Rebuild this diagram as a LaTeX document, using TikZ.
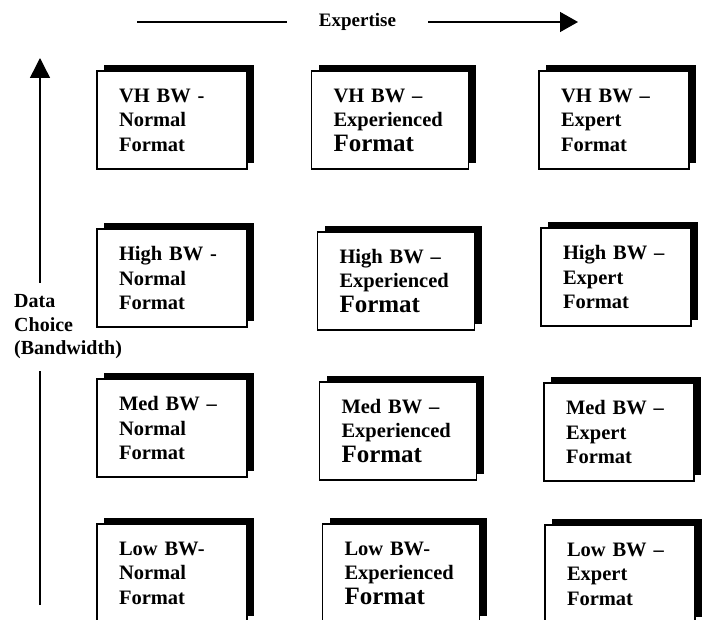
\documentclass[tikz,border=0pt]{standalone}
\usepackage{fontspec}
\setmainfont{Liberation Serif}
\usetikzlibrary{arrows.meta,positioning,shadows}
\newcommand{\fmtbig}{\fontsize{25}{29}\selectfont}

\begin{document}
\begin{tikzpicture}[x=1pt,y=-1pt,
  cell/.style={draw=black,line width=1.4pt,fill=white,minimum height=98pt,
    inner xsep=22pt,inner ysep=0pt,text width=106pt,align=left,
    font=\bfseries\fontsize{20.5}{24.5}\selectfont,
    general shadow={fill=black,shadow xshift=7pt,shadow yshift=6pt}},
  wide/.style={text width=113pt},
  axlbl/.style={fill=white,font=\bfseries\fontsize{19}{24}\selectfont}]
\clip (0,0) rectangle (704,620);

% ---- axes
\coordinate (xs) at (137,22);
\coordinate (xe) at (578,22);
\draw[line width=1.4pt,-{Triangle[length=18pt,width=20pt]}] (xs) -- node[axlbl,inner xsep=32pt,inner ysep=12pt]{Expertise} (xe);
\coordinate (ys) at (40,605);
\coordinate (ye) at (40,58);
\draw[line width=1.4pt,-{Triangle[length=20pt,width=20pt]}] (ys) -- (ye);
\node[axlbl,anchor=west,align=left,inner xsep=6pt,inner ysep=12pt,
  font=\bfseries\fontsize{20}{23.5}\selectfont] (dc) at (8,327) {Data\\Choice\\(Bandwidth)};

% ---- very high bandwidth
\node[cell] (vhn) at (172,120) {VH BW -\\Normal\\Format};
\node[cell,wide] (vhe) at (390,120) {VH BW --\\Experienced\\\fmtbig Format};
\node[cell] (vhx) at (614,120) {VH BW --\\Expert\\Format};

% ---- high bandwidth
\node[cell] (hin) at (172,278) {High BW -\\Normal\\Format};
\node[cell,wide] (hie) at (396,281) {High BW --\\Experienced\\\fmtbig Format};
\node[cell] (hix) at (616,277) {High BW --\\Expert\\Format};

% ---- medium bandwidth
\node[cell] (men) at (172,428) {Med BW --\\Normal\\Format};
\node[cell,wide] (mee) at (398,431) {Med BW --\\Experienced\\\fmtbig Format};
\node[cell] (mex) at (619,432) {Med BW --\\Expert\\Format};

% ---- low bandwidth
\node[cell] (lon) at (172,573) {Low BW-\\Normal\\Format};
\node[cell,wide] (loe) at (401,573) {Low BW-\\Experienced\\\fmtbig Format};
\node[cell] (lox) at (620,574) {Low BW --\\Expert\\Format};
\end{tikzpicture}
\end{document}
